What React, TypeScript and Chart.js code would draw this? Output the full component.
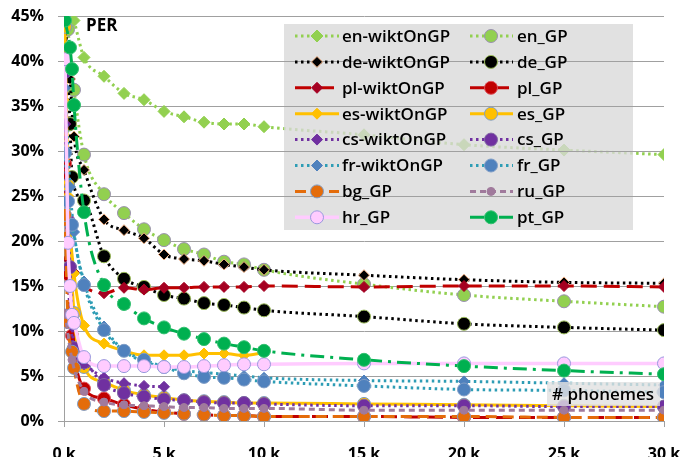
import React, { useEffect, useRef } from 'react';
import { Chart, registerables } from 'chart.js';

Chart.register(...registerables);

// x positions (thousands of phonemes)
const X_K = [0.05, 0.2, 0.3, 0.4, 0.5, 1, 2, 3, 4, 5, 6, 7, 8, 9, 10, 15, 20, 25, 30];

// PER values (%)
const enWiktOnGP = [null, null, null, null, 44.5, 40.4, 38.3, 36.4, 35.7, 34.4, 33.8, 33.2, 33.0, 33.0, 32.7, 31.8, 30.7, 30.1, 29.6];
const enGP = [null, 43.5, null, null, 36.8, 29.6, 25.2, 23.1, 21.3, 20.1, 19.1, 18.5, 17.7, 17.4, 16.8, 15.2, 14.0, 13.3, 12.7];
const deWiktOnGP = [44.0, null, 38.0, null, 31.6, 27.9, 22.4, 21.2, 20.3, 18.5, 18.0, 17.8, 17.4, 17.1, 16.8, 16.2, 15.7, 15.4, 15.3];
const deGP = [43.8, null, 33.0, 27.1, null, 24.5, 18.3, 15.8, 14.9, 14.0, 13.6, 13.1, 12.9, 12.6, 12.3, 11.6, 10.8, 10.4, 10.1];
const plWiktOnGP = [33.0, 18.0, null, null, 16.5, 15.0, 14.2, 14.8, 14.6, 14.8, 14.8, 14.9, 14.9, 14.9, 15.0, 14.9, 15.0, 15.0, 14.9];
const plGP = [28.6, 16.3, null, 9.5, null, 3.6, 2.5, 1.8, 1.3, 1.0, 0.8, 0.7, 0.6, 0.6, 0.5, 0.5, 0.4, 0.4, 0.4];
const esWiktOnGP = [35.5, 25.0, null, null, 16.4, 10.6, 8.6, 7.8, 7.3, 7.3, 7.3, 7.5, 7.5, 7.3, 7.6, null, null, null, null];
const esGP = [43.8, 26.2, null, null, 12.0, 6.0, 4.3, 3.4, 2.9, 2.6, 2.3, 2.2, 2.1, 2.0, 2.0, 1.9, 1.8, 1.7, 1.6];
const csWiktOnGP = [33.0, 17.1, null, null, 8.0, 6.3, 4.8, 4.2, 3.9, 3.8, null, null, null, null, null, null, null, null, null];
const csGP = [38.8, 22.3, 17.1, null, 8.1, 6.5, 4.0, 3.1, 2.7, 2.4, 2.3, 2.1, 2.0, 2.0, 1.9, 1.7, 1.7, 1.6, 1.6];
const frWiktOnGP = [37.0, null, 26.0, null, 21.0, 15.5, 10.5, 7.8, 6.6, 6.0, 5.6, 5.4, 5.2, 5.0, 4.8, 4.5, 4.4, 4.2, 4.0];
const frGP = [29.8, 24.4, null, 21.8, null, 15.1, 10.1, 7.8, 6.8, 6.0, 5.3, 4.9, 4.8, 4.6, 4.4, 3.9, 3.5, 3.4, 3.2];
const bgGP = [22.9, 11.0, null, 7.7, 5.9, 1.9, 1.1, 1.1, 1.0, 0.9, 0.8, 0.7, 0.6, 0.6, 0.5, 0.5, 0.5, 0.4, 0.4];
const ruGP = [12.0, null, null, 6.8, null, 3.3, 2.1, 1.8, 1.7, 1.6, 1.5, 1.5, 1.4, 1.4, 1.4, 1.2, 1.2, 1.2, 1.2];
const hrGP = [40.2, 19.8, 15.0, 11.8, 10.9, 7.1, 6.1, 6.1, 6.1, 6.0, 6.0, 6.1, 6.2, 6.3, 6.3, 6.4, 6.4, 6.4, 6.4];
const ptGP = [44.5, null, 41.5, 39.1, 35.1, 23.2, 15.1, 13.0, 11.4, 10.4, 9.7, 9.1, 8.6, 8.2, 7.8, 6.8, 6.1, 5.6, 5.2];

const X_MIN = 0;
const X_MAX = 30;
const X_STEP = 5;
const Y_MIN = 0;
const Y_MAX = 45;
const Y_STEP = 5;

const DOT = [2.5, 3.5];
const LONGDASH = [16, 7];
const DASH = [11, 6];
const SQDASH = [6, 4];
const DASHDOT = [14, 6, 3, 6];

type S = {
  label: string; data: (number | null)[]; color: string; dash: number[]; width: number;
  marker: 'circle' | 'rectRot'; r: number; fill: string; stroke: string;
};

const SERIES: S[] = [
  { label: 'en-wiktOnGP', data: enWiktOnGP, color: '#92D050', dash: DOT, width: 3, marker: 'rectRot', r: 6, fill: '#92D050', stroke: '#92D050' },
  { label: 'en_GP', data: enGP, color: '#92D050', dash: DOT, width: 3, marker: 'circle', r: 6.5, fill: '#92D050', stroke: '#9A8FB0' },
  { label: 'de-wiktOnGP', data: deWiktOnGP, color: '#000000', dash: DOT, width: 3, marker: 'rectRot', r: 5.5, fill: '#000000', stroke: '#F4B183' },
  { label: 'de_GP', data: deGP, color: '#000000', dash: DOT, width: 3, marker: 'circle', r: 6.5, fill: '#000000', stroke: '#9BBB59' },
  { label: 'pl-wiktOnGP', data: plWiktOnGP, color: '#C00000', dash: LONGDASH, width: 3, marker: 'rectRot', r: 5.5, fill: '#A50021', stroke: '#A50021' },
  { label: 'pl_GP', data: plGP, color: '#C00000', dash: LONGDASH, width: 3, marker: 'circle', r: 6.5, fill: '#C00000', stroke: '#E0505A' },
  { label: 'es-wiktOnGP', data: esWiktOnGP, color: '#FFC000', dash: [], width: 3, marker: 'rectRot', r: 5.5, fill: '#FFC000', stroke: '#FFC000' },
  { label: 'es_GP', data: esGP, color: '#FFC000', dash: [], width: 3, marker: 'circle', r: 6.5, fill: '#FFC000', stroke: '#7F9DC6' },
  { label: 'cs-wiktOnGP', data: csWiktOnGP, color: '#7030A0', dash: DOT, width: 3, marker: 'rectRot', r: 5.5, fill: '#7030A0', stroke: '#7030A0' },
  { label: 'cs_GP', data: csGP, color: '#7030A0', dash: DOT, width: 3, marker: 'circle', r: 6.5, fill: '#7030A0', stroke: '#8064A2' },
  { label: 'fr-wiktOnGP', data: frWiktOnGP, color: '#2E9DB5', dash: DOT, width: 3, marker: 'rectRot', r: 5.5, fill: '#4F81BD', stroke: '#4F81BD' },
  { label: 'fr_GP', data: frGP, color: '#2E9DB5', dash: DOT, width: 3, marker: 'circle', r: 6.5, fill: '#4F81BD', stroke: '#7F9DC6' },
  { label: 'bg_GP', data: bgGP, color: '#E46C0A', dash: DASH, width: 3, marker: 'circle', r: 6.5, fill: '#E46C0A', stroke: '#7F9DC6' },
  { label: 'ru_GP', data: ruGP, color: '#A07A9C', dash: SQDASH, width: 3, marker: 'circle', r: 4, fill: '#A07A9C', stroke: '#A07A9C' },
  { label: 'hr_GP', data: hrGP, color: '#FFCCFF', dash: [], width: 3.5, marker: 'circle', r: 6.5, fill: '#FFCCFF', stroke: '#9999DD' },
  { label: 'pt_GP', data: ptGP, color: '#00B050', dash: DASHDOT, width: 3, marker: 'circle', r: 6.5, fill: '#00B050', stroke: '#33C070' },
];

const FONT = "'Open Sans', 'DejaVu Sans', sans-serif";
const GRID = '#A0A0A0';

function drawMarker(ctx: CanvasRenderingContext2D, s: S, x: number, y: number) {
  ctx.save();
  ctx.setLineDash([]);
  ctx.beginPath();
  if (s.marker === 'rectRot') {
    ctx.moveTo(x, y - s.r); ctx.lineTo(x + s.r, y); ctx.lineTo(x, y + s.r); ctx.lineTo(x - s.r, y); ctx.closePath();
  } else {
    ctx.arc(x, y, s.r, 0, Math.PI * 2);
  }
  ctx.fillStyle = s.fill; ctx.fill();
  ctx.lineWidth = 1; ctx.strokeStyle = s.stroke; ctx.stroke();
  ctx.restore();
}

const overlayPlugin = {
  id: 'overlay',
  afterDraw(chart: any) {
    const ctx: CanvasRenderingContext2D = chart.ctx;
    const yScale = chart.scales.y;
    // legend box
    const L = { x0: 284, y0: 24, x1: 633, y1: 230 };
    ctx.save();
    ctx.fillStyle = 'rgba(217,217,217,0.78)';
    ctx.fillRect(L.x0, L.y0, L.x1 - L.x0, L.y1 - L.y0);
    // gridlines through the legend
    ctx.strokeStyle = GRID; ctx.lineWidth = 1;
    for (let v = Y_MIN; v <= Y_MAX; v += Y_STEP) {
      const py = Math.floor(yScale.getPixelForValue(v)) + 0.5;
      if (py > L.y0 && py < L.y1) {
        ctx.beginPath(); ctx.moveTo(L.x0, py); ctx.lineTo(L.x1, py); ctx.stroke();
      }
    }
    const cols = [{ l0: 295, l1: 339, m: 317, t: 342 }, { l0: 470, l1: 513, m: 491, t: 517 }];
    const rowY0 = 36, rowH = 25.9;
    ctx.font = `600 17px ${FONT}`;
    ctx.textBaseline = 'middle';
    ctx.textAlign = 'left';
    SERIES.forEach((s, i) => {
      const c = cols[i % 2];
      const y = rowY0 + Math.floor(i / 2) * rowH;
      ctx.save();
      ctx.strokeStyle = s.color; ctx.lineWidth = s.width; ctx.setLineDash(s.dash);
      ctx.beginPath(); ctx.moveTo(c.l0, y); ctx.lineTo(c.l1, y); ctx.stroke();
      ctx.restore();
      drawMarker(ctx, s, c.m, y);
      ctx.fillStyle = '#000';
      ctx.fillText(s.label, c.t, y + 1);
    });
    // axis captions
    ctx.font = `bold 17px ${FONT}`;
    ctx.fillStyle = '#000';
    ctx.fillText('PER', 86, 26);
    ctx.fillStyle = 'rgba(225,225,225,0.8)';
    ctx.fillRect(547, 382, 113, 24);
    ctx.fillStyle = '#000';
    ctx.font = `600 17px ${FONT}`;
    ctx.fillText('# phonemes', 552, 395);
    ctx.restore();
  },
};

export default function App() {
  const ref = useRef<HTMLCanvasElement | null>(null);
  useEffect(() => {
    document.body.style.margin = '0';
    if (!ref.current) return;
    const datasets = SERIES.map((s, i) => ({
      label: s.label,
      data: X_K.map((x, j) => ({ x, y: s.data[j] })).filter((p) => p.y !== null),
      borderColor: s.color,
      borderWidth: s.width,
      borderDash: s.dash,
      borderCapStyle: 'butt' as const,
      pointStyle: s.marker,
      pointRadius: s.r,
      pointBackgroundColor: s.fill,
      pointBorderColor: s.stroke,
      pointBorderWidth: 1,
      cubicInterpolationMode: 'monotone' as const,
      fill: false,
      order: SERIES.length - i,
    }));
    const chart = new Chart(ref.current, {
      type: 'line',
      data: { datasets },
      options: {
        animation: false,
        responsive: false,
        devicePixelRatio: 1,
        layout: { padding: { left: 0, top: 16, right: 19, bottom: 0 } },
        plugins: { legend: { display: false }, tooltip: { enabled: false } },
        scales: {
          x: {
            type: 'linear',
            min: X_MIN, max: X_MAX,
            afterFit: (s: any) => { s.height = 36; s.paddingLeft = 0; s.paddingRight = 0; },
            ticks: {
              stepSize: X_STEP,
              callback: (v: any) => `${v} k`,
              color: '#000',
              font: { family: FONT, size: 16, weight: 'bold' },
              padding: 18,
              maxRotation: 0,
            },
            grid: { drawOnChartArea: false, drawTicks: true, tickLength: 6, color: GRID },
            border: { display: true, color: GRID },
          },
          y: {
            type: 'linear',
            min: Y_MIN, max: Y_MAX,
            afterFit: (s: any) => { s.width = 64; s.paddingTop = 0; s.paddingBottom = 0; },
            ticks: {
              stepSize: Y_STEP,
              callback: (v: any) => `${v}%`,
              color: '#000',
              font: { family: FONT, size: 16, weight: 'bold' },
              padding: 14,
            },
            grid: { color: GRID, tickLength: 6, drawTicks: true },
            border: { display: true, color: GRID },
          },
        },
      },
      plugins: [overlayPlugin],
    });
    return () => chart.destroy();
  }, []);
  return (
    <div style={{ width: 683, height: 457, position: 'relative', background: '#fff' }}>
      <canvas ref={ref} width={683} height={457} />
    </div>
  );
}
